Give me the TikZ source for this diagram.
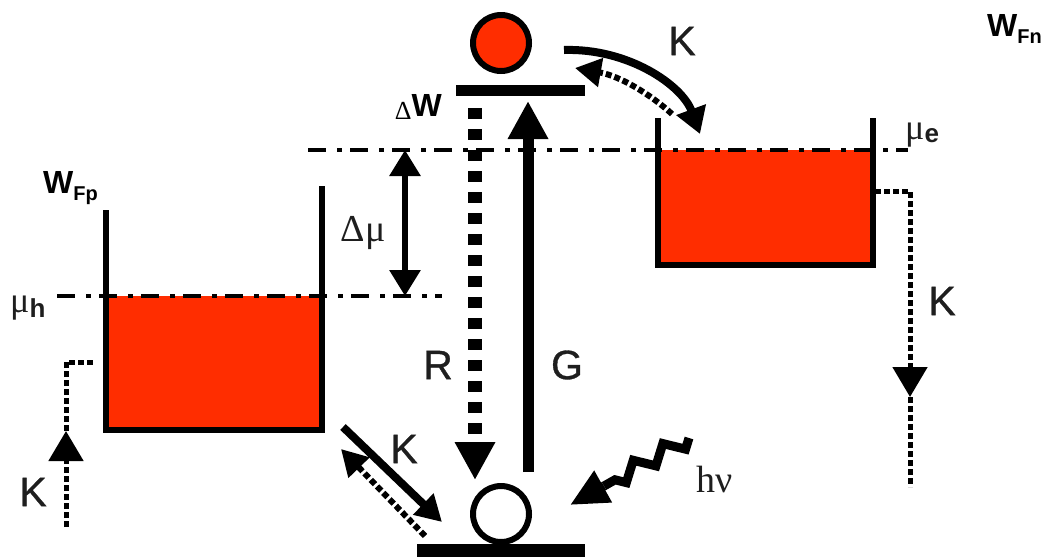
\documentclass[tikz,border=0pt]{standalone}
\usepackage{fontspec}
\setmainfont{Liberation Sans}
\newfontfamily\serifgreek{Liberation Serif}
\newfontfamily\keyfont[RawFeature={embolden=0.8}]{Liberation Sans}
\usetikzlibrary{arrows.meta,decorations.pathmorphing}
\definecolor{WellColor}{RGB}{255,45,0}
\definecolor{LabelColor}{RGB}{30,30,30}
\tikzset{
  wellwall/.style={line width=6pt, line cap=butt, line join=miter},
  wellfill/.style={fill=WellColor, draw=none},
  quasilevel/.style={line width=4pt, dash pattern=on 18pt off 11pt on 5pt off 8pt},
  bandlevel/.style={line width=11pt},
  bigtip/.style={-{Triangle[length=38pt,width=38pt]}},
  midtip/.style={-{Triangle[length=30pt,width=34pt]}},
  contact/.style={line width=5pt, dash pattern=on 6pt off 3pt},
  keylabel/.style={font=\keyfont\fontsize{41}{41}\selectfont, text=LabelColor, inner sep=0pt},
  flowlabel/.style={font=\bfseries\fontsize{32}{32}\selectfont, inner sep=0pt, anchor=base west},
}
\begin{document}
\begin{tikzpicture}[x=1pt, y=-1pt, >=Latex]
    \useasboundingbox (0,0) rectangle (1043,558);
    % wells
    \coordinate (pfilltl) at (106,296);
    \coordinate (pfillbr) at (322,430);
    \coordinate (nfilltl) at (658,150);
    \coordinate (nfillbr) at (873,265);
    \fill[wellfill] (pfilltl) rectangle (pfillbr);
    \fill[wellfill] (nfilltl) rectangle (nfillbr);
    \coordinate (ptl) at (106,210);
    \coordinate (pbl) at (106,430);
    \coordinate (pbr) at (322,430);
    \coordinate (ptr) at (322,186);
    \coordinate (ntl) at (658,118);
    \coordinate (nbl) at (658,265);
    \coordinate (nbr) at (873,265);
    \coordinate (ntr) at (873,118);
    \draw[wellwall] (ptl)--(pbl)--(pbr)--(ptr);
    \draw[wellwall] (ntl)--(nbl)--(nbr)--(ntr);
    % quasi fermi levels
    \coordinate (muea) at (308,150);
    \coordinate (mueb) at (908,150);
    \coordinate (muha) at (57,296);
    \coordinate (muhb) at (442,296);
    \draw[quasilevel] (muea)--(mueb);
    \draw[quasilevel] (muha)--(muhb);
    % bands and carriers
    \coordinate (upa) at (456,90);
    \coordinate (upb) at (585,90);
    \coordinate (lowa) at (417,550);
    \coordinate (lowb) at (585,550);
    \draw[bandlevel] (upa)--(upb);
    \draw[line width=13pt] (lowa)--(lowb);
    \node[circle, draw, line width=6pt, fill=WellColor, minimum size=56pt, inner sep=0pt] (electron) at (501,43) {};
    \node[circle, draw, line width=6pt, fill=white, minimum size=56pt, inner sep=0pt] (hole) at (501,514) {};
    % recombination and generation
    \coordinate (rtop) at (475,108);
    \coordinate (rtip) at (475,480);
    \coordinate (gbot) at (528,472);
    \coordinate (gtip) at (528,101);
    \draw[bigtip, line width=14pt, dash pattern=on 11pt off 10pt] (rtop)--(rtip);
    \draw[bigtip, line width=11pt] (gbot)--(gtip);
    % delta mu
    \coordinate (dmua) at (405,150);
    \coordinate (dmub) at (405,296);
    \draw[{Triangle[length=26pt,width=30pt]}-{Triangle[length=26pt,width=30pt]}, line width=6pt] (dmua)--(dmub);
    % upper contact
    \coordinate (ka) at (564,50);
    \coordinate (kb) at (700,134);
    \coordinate (kc) at (672,114);
    \coordinate (kd) at (575,68);
    \draw[-{Triangle[length=26pt,width=30pt]}, line width=8pt] (ka) .. controls (628,48) and (682,85) .. (kb);
    \draw[-{Triangle[length=26pt,width=28pt]}, contact, line width=6pt] (kc) .. controls (650,94) and (620,76) .. (kd);
    % lower contact
    \coordinate (la) at (343,427);
    \coordinate (lb) at (442,522);
    \coordinate (lc) at (425,536);
    \coordinate (ld) at (341,449);
    \draw[-{Triangle[length=26pt,width=28pt]}, line width=8pt] (la)--(lb);
    \draw[-{Triangle[length=26pt,width=28pt]}, contact, line width=6pt] (lc)--(ld);
    % electron lead
    \coordinate (na) at (875,191);
    \coordinate (nb) at (910,191);
    \coordinate (nc) at (910,397);
    \coordinate (nd) at (910,487);
    \draw[midtip, contact] (na)--(nb)--(nc);
    \draw[contact] (nc)--(nd);
    % hole lead
    \coordinate (ha) at (66,527);
    \coordinate (hb) at (66,431);
    \coordinate (hc) at (66,362);
    \coordinate (hd) at (95,362);
    \draw[midtip, contact] (ha)--(hb);
    \draw[contact] (hb)--(hc)--(hd);
    % light
    \coordinate (wavea) at (689,438);
    \coordinate (waveb) at (604,486);
    \coordinate (wavec) at (570,505);
    \draw[line width=9pt, decorate, decoration={zigzag, amplitude=8pt, segment length=34pt}] (wavea)--(waveb);
    \draw[-{Triangle[length=38pt,width=34pt]}, line width=9pt] (waveb)--(wavec);
    % labels
    \node[keylabel] (kone) at (682,41) {K};
    \node[keylabel] (ktwo) at (942,301) {K};
    \node[keylabel] (kthree) at (404,449) {K};
    \node[keylabel] (kfour) at (33,492) {K};
    \node[keylabel] (rlabel) at (438,365) {R};
    \node[keylabel] (glabel) at (567,365) {G};
    \node[flowlabel] (wfp) at (43,193) {W\raisebox{-7pt}{\fontsize{20}{20}\selectfont Fp}};
    \node[flowlabel] (wfn) at (987,36) {W\raisebox{-7pt}{\fontsize{20}{20}\selectfont Fn}};
    \node[flowlabel, anchor=base east] (deltaw) at (442,116) {\raisebox{-3pt}{\fontsize{26}{26}\selectfont\mdseries\serifgreek Δ}W};
    \node[keylabel, font=\serifgreek\fontsize{38}{38}\selectfont, anchor=base] (dmulabel) at (363,241) {Δμ};
    \node[keylabel, font=\serifgreek\fontsize{38}{38}\selectfont, anchor=base] (hnu) at (715,492) {hν};
    \node[flowlabel, font=\fontsize{36}{36}\selectfont, text=LabelColor] (muh) at (10,312) {{\serifgreek μ}\raisebox{-5pt}{\fontsize{26}{26}\selectfont\bfseries h}};
    \node[flowlabel, font=\fontsize{36}{36}\selectfont, text=LabelColor] (mue) at (905,139) {{\serifgreek μ}\raisebox{-3pt}{\fontsize{26}{26}\selectfont\bfseries e}};
\end{tikzpicture}
\end{document}
